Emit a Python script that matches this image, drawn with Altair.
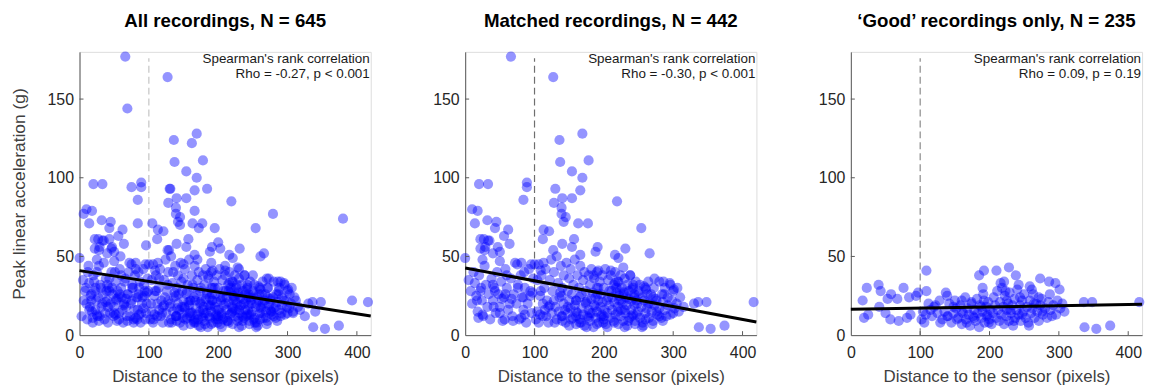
import altair as alt
import pandas as pd

# ---------------- data ----------------
# 'Good' recordings (shown in all three panels)
good_x = [17, 23, 19, 25, 40, 43, 41, 50, 57, 58, 53, 67, 69, 76, 81, 84, 86, 94, 97, 109,
          109, 106, 108, 117, 122, 129, 137, 139, 139, 148, 153, 160, 160, 167, 174, 178, 185, 192, 190, 188,
          192, 197, 199, 210, 216, 221, 223, 228, 225, 230, 235, 238, 242, 244, 247, 257, 258, 261, 264, 271,
          273, 276, 286, 287, 290, 295, 301, 308, 336, 348, 337, 354, 374, 416,
          135, 140, 142, 145, 148, 150, 152, 155, 158, 160, 162, 165, 166, 168, 170, 172, 174, 176, 178, 180,
          182, 183, 185, 186, 188, 190, 191, 193, 195, 196, 198, 200, 201, 203, 205, 206, 208, 210, 211, 212,
          214, 215, 217, 218, 220, 221, 222, 224, 225, 227, 228, 229, 231, 233, 234, 236, 237, 239, 240, 242,
          244, 245, 247, 249, 250, 252, 254, 256, 258, 260, 262, 263, 265, 267, 269, 271, 273, 275, 277, 280,
          283, 285, 288, 292, 296, 298, 302, 305, 120, 125, 128, 132, 115, 112, 104, 102]
good_y = [22, 30, 11, 13, 32, 28, 18, 14, 10, 26, 23, 23, 9, 30, 11, 24, 13, 25, 27, 41,
          28, 8, 13, 12, 19, 8, 27, 25, 12, 18, 10, 22, 15, 8, 21, 11, 38, 41, 30, 18,
          22, 13, 8, 41, 33, 34, 28, 43, 22, 16, 9, 38, 32, 24, 13, 6, 31, 29, 20, 24,
          36, 15, 34, 26, 12, 33, 29, 15, 21, 21, 5, 4, 6, 21,
          15, 12, 20, 8, 14, 22, 17, 11, 19, 7, 14, 24, 10, 17, 13, 6, 20, 12, 16, 9,
          23, 14, 5, 19, 11, 15, 26, 8, 18, 12, 21, 10, 16, 7, 14, 24, 19, 11, 28, 16,
          9, 21, 13, 30, 18, 7, 25, 12, 16, 20, 9, 27, 14, 19, 6, 23, 11, 16, 29, 13,
          19, 9, 22, 15, 26, 11, 18, 8, 22, 14, 17, 26, 11, 20, 15, 9, 19, 23, 13, 17,
          11, 21, 16, 19, 13, 22, 17, 20, 18, 14, 22, 10, 16, 20, 15, 10]

# Matched recordings that are not 'good' (panels 1 and 2)
matched_x = [66, 127, 169, 136, 178, 137, 154, 169, 130, 166, 20, 33, 89, 89, 84, 128, 140, 154, 139, 219,
             10, 18, 14, 32, 45, 43, 62, 56, 64, 113, 121, 112, 139, 145, 142, 163, 177, 157, 254, 22,
             27, 33, 29, 22, 28, 47, 50, 0, 81, 100, 113, 127, 140, 154, 166, 191, 188, 216, 231, 266, 221,
             5, 8, 10, 12, 14, 16, 18, 20, 22, 24, 26, 28, 30, 32, 34, 36, 38, 40, 42, 44,
             46, 48, 50, 52, 54, 56, 58, 60, 62, 64, 66, 68, 70, 72, 74, 76, 78, 80, 82, 84,
             86, 88, 90, 92, 94, 96, 98, 35, 40, 50, 25, 60, 75, 85, 95,
             104, 106, 108, 110, 112, 114, 116, 118, 120, 122, 124, 126, 128, 130, 132, 134, 136, 138, 140, 142,
             144, 146, 148, 150, 152, 154, 156, 158, 160, 162, 164, 166, 168, 170, 172, 174, 176, 178, 180, 182,
             184, 186, 188, 190, 192, 194, 196, 198, 200, 202, 204, 206, 208, 210, 212, 214, 216, 218, 220, 222,
             224, 226, 228, 230, 232, 234, 236, 238, 240, 242, 244, 246, 248, 250, 252, 256, 260, 264, 268, 272,
             276, 280, 284, 288, 292, 296, 300, 306, 310, 315, 330,
             150, 165, 175, 190, 205, 215, 230, 245, 255, 270, 285, 140, 160, 180, 200, 220, 240, 260, 280, 300]
matched_y = [177, 164, 128, 124, 111, 110, 104, 100, 93, 92, 96, 96, 97, 94, 86, 84, 87, 87, 81, 85,
             80, 79, 71, 73, 72, 68, 67, 63, 58, 67, 66, 61, 77, 75, 72, 71, 71, 61, 68, 61,
             61, 60, 56, 55, 54, 56, 53, 49, 46, 45, 46, 54, 58, 56, 51, 56, 53, 51, 55, 52, 49,
             35, 28, 20, 40, 33, 25, 15, 38, 28, 22, 12, 44, 32, 18, 26, 10, 36, 22, 30, 14,
             40, 26, 18, 34, 9, 24, 42, 30, 16, 20, 36, 12, 26, 46, 20, 32, 10, 38, 24, 16,
             30, 8, 20, 42, 28, 14, 36, 60, 52, 47, 48, 38, 45, 40, 45,
             35, 45, 25, 38, 12, 30, 42, 22, 8, 35, 48, 28, 40, 18, 50, 33, 24, 44, 30, 38,
             16, 46, 28, 36, 42, 26, 32, 48, 22, 38, 30, 44, 26, 35, 40, 28, 22, 38, 32, 42,
             27, 36, 24, 40, 30, 34, 26, 38, 30, 42, 22, 35, 28, 38, 24, 32, 40, 27, 34, 22,
             38, 30, 26, 36, 24, 32, 28, 38, 22, 30, 26, 34, 20, 28, 32, 24, 30, 34, 26, 30,
             22, 34, 26, 30, 24, 32, 28, 30, 24, 18, 20,
             6, 8, 5, 7, 5, 8, 5, 7, 5, 7, 9, 9, 12, 14, 12, 15, 12, 10, 12, 14]

# Other recordings (panel 1 only)
other_x = [69, 162, 184, 380, 279, 393, 75, 131, 166, 6, 200, 203, 145, 172, 195, 105, 84, 96, 43, 46,
           261, 129,
           3, 6, 9, 11, 13, 15, 17, 19, 21, 23, 25, 27, 29, 31, 33, 35, 37, 39, 41, 43,
           45, 47, 49, 51, 53, 55, 57, 59, 61, 63, 65, 67, 69, 71, 73, 75, 77, 79, 81, 83,
           85, 87, 89, 91, 93, 95, 97, 99,
           103, 107, 111, 115, 119, 123, 127, 131, 135, 139, 143, 147, 151, 155, 159, 163, 167, 171, 175, 179,
           183, 187, 191, 195, 199, 203, 207, 211, 215, 219, 223, 227, 231, 235, 239, 243, 247, 251, 255, 259,
           263, 267, 271, 275, 279, 283, 287, 291, 295, 299, 303, 308, 312, 318, 325, 340,
           150, 170, 190, 210, 230, 250, 270, 290,
           14, 28, 38, 52, 64, 78, 92, 133, 141, 149, 157, 165, 173, 181, 189, 197, 205, 213, 221, 229,
           237, 245, 253, 261, 269, 277]
other_y = [144, 122, 93, 74, 77, 22, 94, 93, 79, 77, 59, 55, 70, 68, 68, 71, 71, 57, 61, 55,
           50, 54,
           12, 22, 30, 10, 44, 18, 26, 8, 34, 16, 40, 24, 12, 30, 20, 46, 14, 28, 8, 36,
           20, 30, 12, 40, 22, 28, 14, 50, 24, 8, 34, 18, 26, 40, 12, 22, 30, 16, 42, 10,
           26, 34, 14, 24, 32, 10, 20, 28,
           20, 10, 28, 36, 14, 24, 32, 20, 40, 12, 26, 34, 18, 28, 14, 32, 22, 10, 30, 18,
           26, 12, 22, 30, 16, 24, 10, 20, 28, 14, 24, 32, 18, 12, 26, 16, 24, 10, 20, 26,
           14, 22, 30, 16, 24, 18, 28, 14, 22, 18, 26, 14, 22, 16, 12, 15,
           45, 48, 46, 44, 42, 38, 36, 34,
           16, 9, 21, 13, 19, 8, 17, 8, 17, 11, 21, 9, 15, 7, 19, 10, 13, 9, 17, 11,
           20, 13, 8, 18, 11, 15]

# Panel texts and fitted lines (line values read at x = 0 and x = 420)
titles = ["All recordings, N = 645", "Matched recordings, N = 442", "\u2018Good\u2019 recordings only, N = 235"]
rho_texts = ["Rho = -0.27, p < 0.001", "Rho = -0.30, p < 0.001", "Rho = 0.09, p = 0.19"]
fit_x = [0, 420]
fit_start = [41.0, 42.7, 16.4]
fit_end = [12.2, 8.4, 19.6]
dash_colors = ["#c4c4c4", "#6e6e6e", "#8a8a8a"]
x_ticks = [0, 100, 200, 300, 400]
y_ticks = [0, 50, 100, 150]

# ---------------- chart ----------------
W, H = 293, 285
FONT = "Liberation Sans"
TXT = "#262626"

good = pd.DataFrame({"x": good_x, "y": good_y})
matched = pd.DataFrame({"x": matched_x, "y": matched_y})
other = pd.DataFrame({"x": other_x, "y": other_y})
panel_data = [pd.concat([good, matched, other]), pd.concat([good, matched]), good]

xs = alt.Scale(domain=[0, 420], nice=False, zero=False)
ys = alt.Scale(domain=[0, 180], nice=False, zero=False)


def panel(i):
    df = panel_data[i]
    xax = alt.Axis(values=x_ticks, ticks=False, grid=False, title="Distance to the sensor (pixels)",
                   labelFontSize=16, titleFontSize=17, labelFont=FONT, titleFont=FONT,
                   labelColor=TXT, titleColor="#404040", titleFontWeight="normal",
                   domainColor="#5a5a5a", labelPadding=10, titlePadding=8, labelFlush=False)
    yax = alt.Axis(values=y_ticks, ticks=False, grid=False,
                   title="Peak linear acceleration (g)" if i == 0 else "",
                   labelFontSize=16, titleFontSize=17.5, labelFont=FONT, titleFont=FONT,
                   labelColor=TXT, titleColor="#404040", titleFontWeight="normal",
                   domainColor="#5a5a5a", labelPadding=6, titlePadding=19, labelFlush=False)

    pts = alt.Chart(df).mark_circle(size=105, color="#0000ff", opacity=0.42, stroke=None).encode(
        x=alt.X("x:Q", scale=xs, axis=xax),
        y=alt.Y("y:Q", scale=ys, axis=yax),
    )
    dash = alt.Chart(pd.DataFrame({"x": [100], "y": [0], "y2": [176]})).mark_rule(
        color=dash_colors[i], strokeDash=[7, 4], strokeWidth=1.2
    ).encode(x=alt.X("x:Q", scale=xs), y=alt.Y("y:Q", scale=ys), y2="y2:Q")
    fit = alt.Chart(pd.DataFrame({"x": fit_x, "y": [fit_start[i], fit_end[i]]})).mark_line(
        color="black", strokeWidth=3
    ).encode(x=alt.X("x:Q", scale=xs), y=alt.Y("y:Q", scale=ys))
    xt = alt.Chart(pd.DataFrame({"x": x_ticks[1:]})).mark_rule(color="#5a5a5a").encode(
        x=alt.X("x:Q", scale=xs), y=alt.value(H), y2=alt.value(H - 4))
    yt = alt.Chart(pd.DataFrame({"y": y_ticks[1:]})).mark_rule(color="#5a5a5a").encode(
        y=alt.Y("y:Q", scale=ys), x=alt.value(0), x2=alt.value(4))
    t1 = alt.Chart(pd.DataFrame({"t": ["Spearman's rank correlation"]})).mark_text(
        align="right", baseline="middle", fontSize=13.5, font=FONT, color="#1a1a1a"
    ).encode(text="t:N", x=alt.value(W - 1), y=alt.value(7))
    t2 = alt.Chart(pd.DataFrame({"t": [rho_texts[i]]})).mark_text(
        align="right", baseline="middle", fontSize=13.5, font=FONT, color="#1a1a1a"
    ).encode(text="t:N", x=alt.value(W - 1), y=alt.value(22))

    return alt.layer(dash, pts, fit, xt, yt, t1, t2).properties(
        width=W, height=H,
        title=alt.TitleParams(titles[i], fontSize=18.8, font=FONT, fontWeight="bold",
                              color="black", offset=21, anchor="middle"),
    )


chart = alt.hconcat(panel(0), panel(1), panel(2), spacing=54).properties(
    padding={"left": 9, "top": 10, "right": 5, "bottom": 0}
).configure_view(stroke=None).configure(background="white")

chart.save("out.html", embed_options={"renderer": "svg", "actions": False})
